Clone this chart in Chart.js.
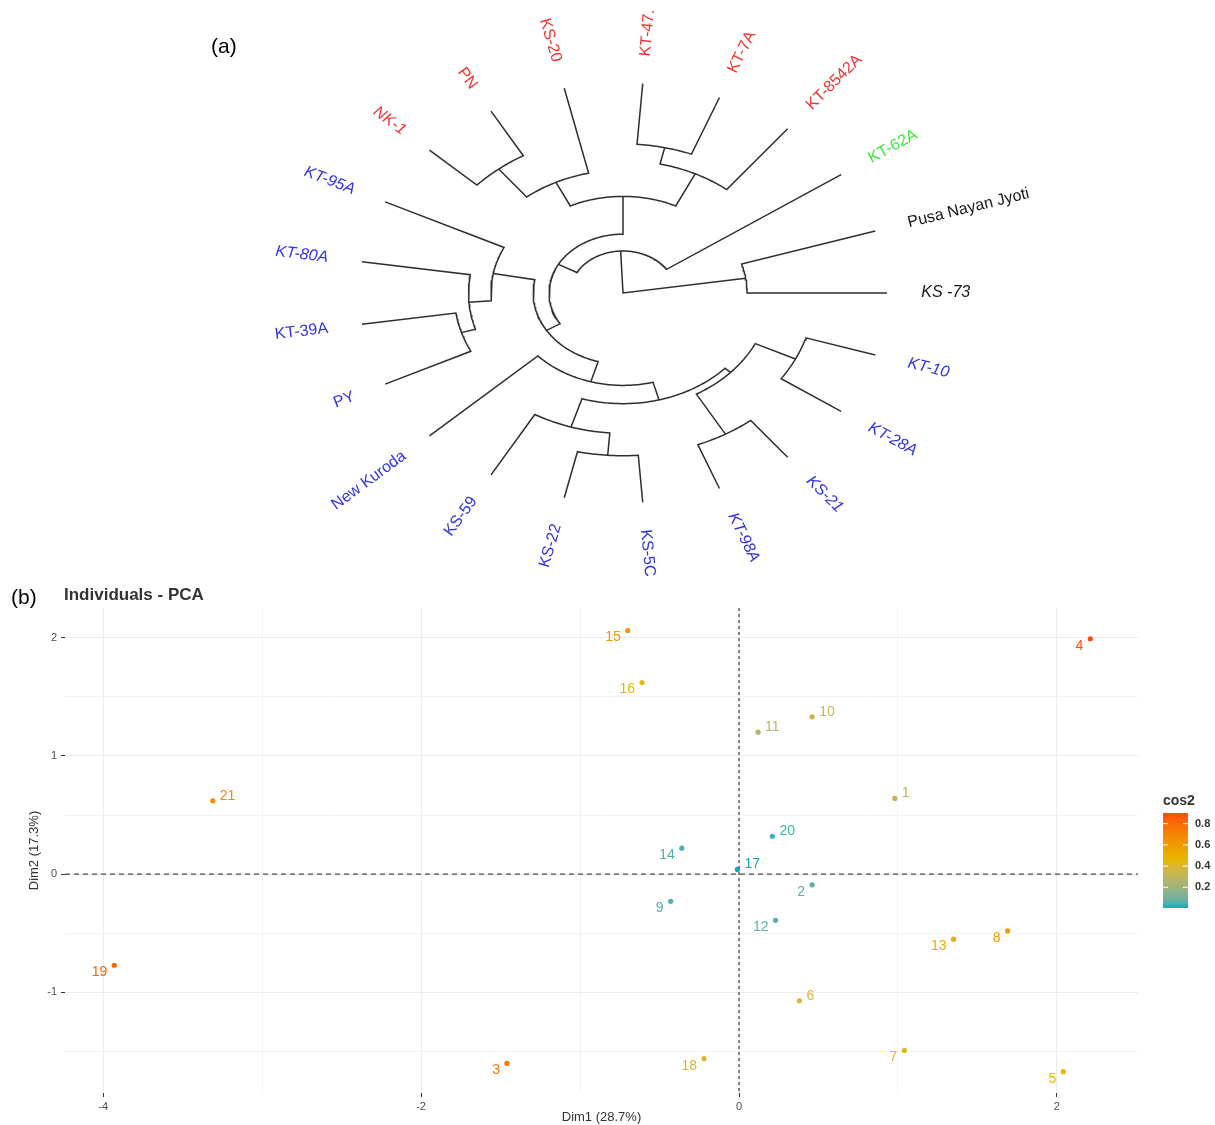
<!DOCTYPE html>
<html>
<head>
<meta charset="utf-8">
<script src="https://cdn.jsdelivr.net/npm/chart.js@4.4.1/dist/chart.umd.min.js"></script>
<style>
  html, body { margin: 0; padding: 0; background: #fff; }
  #wrapA { position: absolute; left: 0; top: 0; width: 1215px; height: 600px; }
  #wrapB { position: absolute; left: 0; top: 575px; width: 1215px; height: 550px; }
</style>
</head>
<body>
<div id="wrapA"><canvas id="tree" width="1215" height="600"></canvas></div>
<div id="wrapB"><canvas id="pca" width="1215" height="550"></canvas></div>
<script>
// ---------- (a) circular dendrogram ----------
// leaves in circle order, anticlockwise starting from KS -73
var leaves = ['KS -73', 'Pusa Nayan Jyoti', 'KT-62A', 'KT-8542A', 'KT-7A', 'KT-47.', 'KS-20', 'PN', 'NK-1',
  'KT-95A', 'KT-80A', 'KT-39A', 'PY', 'New Kuroda', 'KS-59', 'KS-22', 'KS-5C', 'KT-98A', 'KS-21', 'KT-28A', 'KT-10'];
var leafCluster = [1, 1, 2, 3, 3, 3, 3, 3, 3, 4, 4, 4, 4, 4, 4, 4, 4, 4, 4, 4, 4];

// merges like hclust: negative = leaf number, positive = earlier merge row
var mergeLeft = [-12, -11, -10, -5, -4, -8, -7, 5, -16, -15, -18, -20, 11, 10, -14, 3, 8, -3, -1, 19];
var mergeRight = [-13, 1, 2, -6, 4, -9, 6, 7, -17, 9, -19, -21, 12, 13, 14, 15, 16, 17, -2, 18];
var mergeHeight = [0.36, 0.415, 0.50, 0.29, 0.37, 0.245, 0.415, 0.54, 0.225, 0.332, 0.224, 0.275, 0.444, 0.473, 0.56, 0.66, 0.72, 0.80, 0.53, 1.0];

// ---------- (b) PCA individuals ----------
var individuals = ['1','2','3','4','5','6','7','8','9','10','11','12','13','14','15','16','17','18','19','20','21'];
var dim1 = [0.98, 0.46, -1.46, 2.21, 2.04, 0.38, 1.04, 1.69, -0.43, 0.46, 0.12, 0.23, 1.35, -0.36, -0.70, -0.61, -0.01, -0.22, -3.93, 0.21, -3.31];
var dim2 = [0.64, -0.09, -1.60, 1.99, -1.67, -1.07, -1.49, -0.48, -0.23, 1.33, 1.20, -0.39, -0.55, 0.22, 2.06, 1.62, 0.04, -1.56, -0.77, 0.32, 0.62];
var cos2 = [0.32, 0.06, 0.75, 0.90, 0.45, 0.38, 0.42, 0.58, 0.06, 0.35, 0.27, 0.06, 0.52, 0.05, 0.62, 0.45, 0.005, 0.40, 0.82, 0.03, 0.68];
var xTicks = [-4, -2, 0, 2];
var yTicks = [-1, 0, 1, 2];
var cos2Ticks = [0.2, 0.4, 0.6, 0.8];

// styles
var clusterColour = { 1: '#161616', 2: '#3de83d', 3: '#f03434', 4: '#3333dd' };
var italicLeaves = ['KS -73', 'KT-95A', 'KT-80A', 'KT-98A', 'KS-21', 'KT-28A', 'KT-10', 'NK-1'];
var labelSide = ['r','l','l','l','l','r','l','l','l','r','r','l','l','l','l','l','r','l','l','r','r'];
var FONT = '"Liberation Sans", Arial, sans-serif';
Chart.defaults.font.family = FONT;

// tree geometry: leaves on r = 1, node radius = 1 - height
var nLeaf = leaves.length;
var leafAngle = leaves.map(function (_, i) { return i * 2 * Math.PI / nLeaf; });
var nodeAngle = [], nodeRadius = [];
function childOf(c) {
  if (c < 0) return { a: leafAngle[-c - 1], r: 1 };
  return { a: nodeAngle[c - 1], r: nodeRadius[c - 1] };
}
var branches = [];
mergeLeft.forEach(function (l, i) {
  var A = childOf(l), B = childOf(mergeRight[i]);
  var r = 1 - mergeHeight[i];
  nodeAngle[i] = (A.a + B.a) / 2;
  nodeRadius[i] = r;
  var pts = [{ x: A.r * Math.cos(A.a), y: A.r * Math.sin(A.a) }];
  var steps = Math.max(2, Math.ceil(Math.abs(B.a - A.a) / 0.015));
  for (var s = 0; s <= steps; s++) {
    var t = A.a + (B.a - A.a) * s / steps;
    pts.push({ x: r * Math.cos(t), y: r * Math.sin(t) });
  }
  pts.push({ x: B.r * Math.cos(B.a), y: B.r * Math.sin(B.a) });
  branches.push(pts);
});

var leafLabels = {
  id: 'leafLabels',
  afterDatasetsDraw: function (chart) {
    var ctx = chart.ctx, xs = chart.scales.x, ys = chart.scales.y;
    var cx = xs.getPixelForValue(0), cy = ys.getPixelForValue(0);
    ctx.save();
    leaves.forEach(function (name, i) {
      var a = leafAngle[i];
      var px = xs.getPixelForValue(1.13 * Math.cos(a));
      var py = ys.getPixelForValue(1.13 * Math.sin(a));
      var rot = Math.atan2(py - cy, px - cx);
      var right = Math.cos(a) >= 0;
      ctx.save();
      ctx.translate(px, py);
      ctx.rotate(right ? rot : rot + Math.PI);
      ctx.textAlign = right ? 'left' : 'right';
      ctx.textBaseline = 'middle';
      ctx.fillStyle = clusterColour[leafCluster[i]];
      ctx.font = (italicLeaves.indexOf(name) >= 0 ? 'italic ' : '') + '16px ' + FONT;
      ctx.fillText(name, 0, 0);
      ctx.restore();
    });
    ctx.fillStyle = '#000';
    ctx.font = '21px ' + FONT;
    ctx.textAlign = 'left';
    ctx.textBaseline = 'middle';
    ctx.fillText('(a)', 211, 47);
    ctx.restore();
  }
};

new Chart(document.getElementById('tree'), {
  type: 'scatter',
  data: {
    datasets: branches.map(function (pts) {
      return { data: pts, showLine: true, pointRadius: 0, borderColor: '#2e2e2e', borderWidth: 1.5, tension: 0 };
    })
  },
  options: {
    responsive: false,
    animation: false,
    layout: { padding: { left: 359, right: 328, top: 83, bottom: 97 } },
    scales: {
      x: { type: 'linear', display: false, min: -1, max: 1 },
      y: { type: 'linear', display: false, min: -1, max: 1 }
    },
    plugins: { legend: { display: false }, tooltip: { enabled: false } }
  },
  plugins: [leafLabels]
});

// ---------- PCA ----------
var cosMin = Math.min.apply(null, cos2), cosMax = Math.max.apply(null, cos2);
var gradCols = [[0, 175, 187], [231, 184, 0], [252, 78, 7]];

// colour gradient interpolated in Lab space (like ggplot)
function toLab(rgb) {
  var l = rgb.map(function (c) { c /= 255; return c > 0.04045 ? Math.pow((c + 0.055) / 1.055, 2.4) : c / 12.92; });
  var X = (0.4124 * l[0] + 0.3576 * l[1] + 0.1805 * l[2]) / 0.95047;
  var Y = (0.2126 * l[0] + 0.7152 * l[1] + 0.0722 * l[2]);
  var Z = (0.0193 * l[0] + 0.1192 * l[1] + 0.9505 * l[2]) / 1.08883;
  var f = function (t) { return t > 0.008856 ? Math.cbrt(t) : 7.787 * t + 16 / 116; };
  return [116 * f(Y) - 16, 500 * (f(X) - f(Y)), 200 * (f(Y) - f(Z))];
}
function fromLab(lab) {
  var fy = (lab[0] + 16) / 116, fx = fy + lab[1] / 500, fz = fy - lab[2] / 200;
  var g = function (t) { return t * t * t > 0.008856 ? t * t * t : (t - 16 / 116) / 7.787; };
  var X = g(fx) * 0.95047, Y = g(fy), Z = g(fz) * 1.08883;
  var lin = [3.2406 * X - 1.5372 * Y - 0.4986 * Z, -0.9689 * X + 1.8758 * Y + 0.0415 * Z, 0.0557 * X - 0.2040 * Y + 1.0570 * Z];
  return lin.map(function (c) {
    c = c <= 0.0031308 ? 12.92 * c : 1.055 * Math.pow(Math.max(c, 0), 1 / 2.4) - 0.055;
    return Math.max(0, Math.min(255, Math.round(c * 255)));
  });
}
var gradLab = gradCols.map(toLab);
function gradAt(t) {
  t = Math.max(0, Math.min(1, t)) * 2;
  var k = Math.min(1, Math.floor(t)), f = t - k;
  var lab = gradLab[k].map(function (v, j) { return v + (gradLab[k + 1][j] - v) * f; });
  return 'rgb(' + fromLab(lab).join(',') + ')';
}
function cos2Colour(v) { return gradAt((v - cosMin) / (cosMax - cosMin)); }
var pointColours = cos2.map(cos2Colour);

var refLines = {
  id: 'refLines',
  beforeDatasetsDraw: function (chart) {
    var ctx = chart.ctx, a = chart.chartArea, xs = chart.scales.x, ys = chart.scales.y;
    ctx.save();
    ctx.strokeStyle = '#4a4a4a';
    ctx.lineWidth = 1.3;
    ctx.setLineDash([5, 4]);
    var y0 = ys.getPixelForValue(0);
    ctx.beginPath(); ctx.moveTo(a.left, y0); ctx.lineTo(a.right, y0); ctx.stroke();
    ctx.setLineDash([3, 3]);
    var x0 = xs.getPixelForValue(0);
    ctx.beginPath(); ctx.moveTo(x0, a.top); ctx.lineTo(x0, a.bottom); ctx.stroke();
    ctx.restore();
  }
};

var pointLabels = {
  id: 'pointLabels',
  afterDatasetsDraw: function (chart) {
    var ctx = chart.ctx, meta = chart.getDatasetMeta(0);
    ctx.save();
    ctx.font = '14px ' + FONT;
    ctx.textBaseline = 'middle';
    meta.data.forEach(function (el, i) {
      var left = labelSide[i] === 'l';
      ctx.fillStyle = pointColours[i];
      ctx.textAlign = left ? 'right' : 'left';
      ctx.fillText(individuals[i], el.x + (left ? -7 : 7), el.y + (left ? 7 : -5));
    });
    ctx.restore();
  }
};

var pcaDecor = {
  id: 'pcaDecor',
  afterDraw: function (chart) {
    var ctx = chart.ctx;
    ctx.save();
    ctx.fillStyle = '#000';
    ctx.font = '21px ' + FONT;
    ctx.textBaseline = 'middle';
    ctx.textAlign = 'left';
    ctx.fillText('(b)', 11, 23);
    ctx.fillStyle = '#333';
    ctx.font = 'bold 17px ' + FONT;
    ctx.fillText('Individuals - PCA', 64, 20);

    // cos2 colour bar
    var bx = 1163, bw = 25, bTop = 238, bBot = 333;
    ctx.font = 'bold 14px ' + FONT;
    ctx.fillStyle = '#333';
    ctx.fillText('cos2', bx, 226);
    var g = ctx.createLinearGradient(0, bBot, 0, bTop);
    for (var s = 0; s <= 20; s++) g.addColorStop(s / 20, gradAt(s / 20));
    ctx.fillStyle = g;
    ctx.fillRect(bx, bTop, bw, bBot - bTop);
    ctx.strokeStyle = '#fff';
    ctx.lineWidth = 1;
    ctx.font = 'bold 11px ' + FONT;
    ctx.fillStyle = '#333';
    cos2Ticks.forEach(function (v) {
      var y = bBot - (v - cosMin) / (cosMax - cosMin) * (bBot - bTop);
      ctx.beginPath();
      ctx.moveTo(bx, y); ctx.lineTo(bx + 5, y);
      ctx.moveTo(bx + bw - 5, y); ctx.lineTo(bx + bw, y);
      ctx.stroke();
      ctx.fillText(v.toFixed(1), bx + bw + 7, y);
    });
    ctx.restore();
  }
};

new Chart(document.getElementById('pca'), {
  type: 'scatter',
  data: {
    datasets: [{
      data: dim1.map(function (x, i) { return { x: x, y: dim2[i] }; }),
      pointRadius: 2.6,
      pointBackgroundColor: pointColours,
      pointBorderColor: pointColours,
      pointBorderWidth: 0
    }]
  },
  options: {
    responsive: false,
    animation: false,
    layout: { padding: { left: 27, right: 77, top: 33, bottom: 0 } },
    scales: {
      x: {
        type: 'linear', min: -4.24, max: 2.51,
        afterFit: function (s) { s.height = 32; },
        border: { display: false },
        grid: {
          color: function (c) { return c.tick && xTicks.indexOf(c.tick.value) >= 0 ? '#ececec' : '#f3f3f3'; },
          tickLength: 4,
          tickColor: function (c) { return c.tick && xTicks.indexOf(c.tick.value) >= 0 ? '#333' : 'rgba(0,0,0,0)'; }
        },
        ticks: {
          stepSize: 1, includeBounds: false, autoSkip: false, maxRotation: 0, padding: 3,
          color: '#4d4d4d', font: { size: 11 },
          callback: function (v) { return xTicks.indexOf(v) >= 0 ? String(v) : ''; }
        },
        title: { display: true, text: 'Dim1 (28.7%)', color: '#333', font: { size: 13 }, padding: 0 }
      },
      y: {
        type: 'linear', min: -1.85, max: 2.25,
        afterFit: function (s) { s.width = 38; },
        border: { display: false },
        grid: {
          color: function (c) { return c.tick && yTicks.indexOf(c.tick.value) >= 0 ? '#ececec' : '#f3f3f3'; },
          tickLength: 4,
          tickColor: function (c) { return c.tick && yTicks.indexOf(c.tick.value) >= 0 ? '#333' : 'rgba(0,0,0,0)'; }
        },
        ticks: {
          stepSize: 0.5, includeBounds: false, autoSkip: false, padding: 4,
          color: '#4d4d4d', font: { size: 11 },
          callback: function (v) { return yTicks.indexOf(v) >= 0 ? String(v) : ''; }
        },
        title: { display: true, text: 'Dim2 (17.3%)', color: '#333', font: { size: 13 }, padding: 0 }
      }
    },
    plugins: { legend: { display: false }, tooltip: { enabled: false } }
  },
  plugins: [refLines, pointLabels, pcaDecor]
});
</script>
</body>
</html>
